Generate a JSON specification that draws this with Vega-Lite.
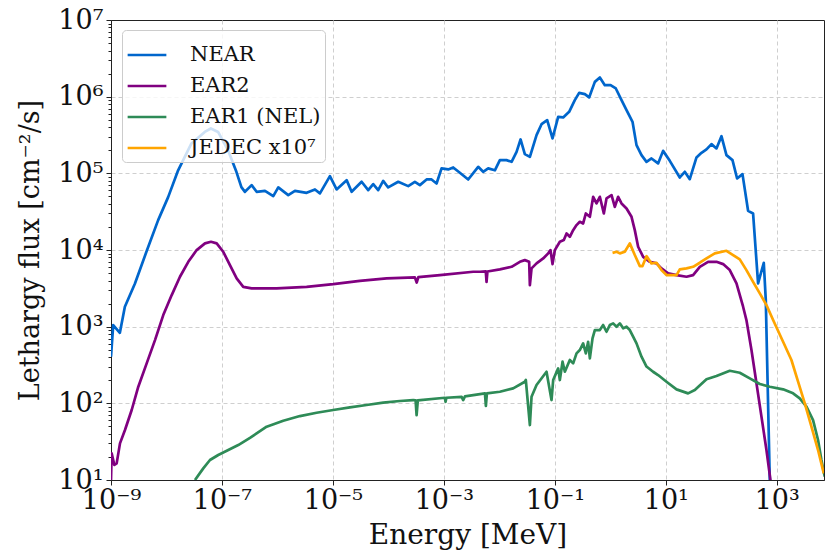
{
"$schema": "https://vega.github.io/schema/vega-lite/v6.json",
"width": 713, "height": 460,
"autosize": {"type": "none"},
"padding": {"left": 111, "top": 20, "right": 1, "bottom": 72},
"background": "white",
"config": {"view": {"stroke": "#222222", "strokeWidth": 1}, "font": "DejaVu Serif"},
"data": {"values": [
{"s":"NEAR","E":1e-9,"F":405},{"s":"NEAR","E":1.096e-9,"F":1047},{"s":"NEAR","E":1.445e-9,"F":832},{"s":"NEAR","E":1.778e-9,"F":1820},{"s":"NEAR","E":2.692e-9,"F":3631},{"s":"NEAR","E":4.365e-9,"F":9550},{"s":"NEAR","E":7.079e-9,"F":24550},{"s":"NEAR","E":1.072e-8,"F":48980},{"s":"NEAR","E":1.622e-8,"F":109600},{"s":"NEAR","E":2.818e-8,"F":245500},{"s":"NEAR","E":4.898e-8,"F":346700},{"s":"NEAR","E":6.31e-8,"F":384600},{"s":"NEAR","E":8.511e-8,"F":346700},{"s":"NEAR","E":1.288e-7,"F":199500},{"s":"NEAR","E":1.82e-7,"F":104700},{"s":"NEAR","E":2.239e-7,"F":66070},{"s":"NEAR","E":2.594e-7,"F":57410},{"s":"NEAR","E":3.428e-7,"F":70150},{"s":"NEAR","E":4.217e-7,"F":57410},{"s":"NEAR","E":5.957e-7,"F":59160},{"s":"NEAR","E":8.414e-7,"F":50470},{"s":"NEAR","E":1.035e-6,"F":65460},{"s":"NEAR","E":1.567e-6,"F":52000},{"s":"NEAR","E":2.065e-6,"F":59160},{"s":"NEAR","E":3.357e-6,"F":55720},{"s":"NEAR","E":4.742e-6,"F":61660},{"s":"NEAR","E":5.834e-6,"F":54700},{"s":"NEAR","E":8.831e-6,"F":91830},{"s":"NEAR","E":1.164e-5,"F":61660},{"s":"NEAR","E":1.766e-5,"F":81470},{"s":"NEAR","E":2.173e-5,"F":57410},{"s":"NEAR","E":3.289e-5,"F":77620},{"s":"NEAR","E":4.325e-5,"F":60390},{"s":"NEAR","E":5.321e-5,"F":72280},{"s":"NEAR","E":6.546e-5,"F":60390},{"s":"NEAR","E":8.054e-5,"F":79800},{"s":"NEAR","E":9.908e-5,"F":65460},{"s":"NEAR","E":1.503e-4,"F":77620},{"s":"NEAR","E":2.275e-4,"F":68080},{"s":"NEAR","E":2.999e-4,"F":77620},{"s":"NEAR","E":3.698e-4,"F":70150},{"s":"NEAR","E":4.875e-4,"F":83180},{"s":"NEAR","E":5.998e-4,"F":83180},{"s":"NEAR","E":7.379e-4,"F":73790},{"s":"NEAR","E":9.08e-4,"F":115900},{"s":"NEAR","E":1.197e-3,"F":112500},{"s":"NEAR","E":1.472e-3,"F":119400},{"s":"NEAR","E":1.941e-3,"F":101600},{"s":"NEAR","E":2.742e-3,"F":83180},{"s":"NEAR","E":4.15e-3,"F":121600},{"s":"NEAR","E":5.105e-3,"F":104700},{"s":"NEAR","E":6.281e-3,"F":115900},{"s":"NEAR","E":8.299e-3,"F":109600},{"s":"NEAR","E":1.021e-2,"F":148600},{"s":"NEAR","E":1.346e-2,"F":148600},{"s":"NEAR","E":1.66e-2,"F":141300},{"s":"NEAR","E":2.042e-2,"F":190500},{"s":"NEAR","E":2.41e-2,"F":276700},{"s":"NEAR","E":2.877e-2,"F":177800},{"s":"NEAR","E":3.548e-2,"F":164100},{"s":"NEAR","E":4.677e-2,"F":314800},{"s":"NEAR","E":5.754e-2,"F":437500},{"s":"NEAR","E":7.278e-2,"F":494300},{"s":"NEAR","E":9.078e-2,"F":285100},{"s":"NEAR","E":0.1148,"F":545800},{"s":"NEAR","E":0.1413,"F":535800},{"s":"NEAR","E":0.1811,"F":633900},{"s":"NEAR","E":0.2291,"F":901600},{"s":"NEAR","E":0.2742,"F":1122000},{"s":"NEAR","E":0.3475,"F":1079000},{"s":"NEAR","E":0.415,"F":977200},{"s":"NEAR","E":0.526,"F":1560000},{"s":"NEAR","E":0.6471,"F":1778000},{"s":"NEAR","E":0.7962,"F":1413000},{"s":"NEAR","E":1.009,"F":1413000},{"s":"NEAR","E":1.256,"F":1279000},{"s":"NEAR","E":1.592,"F":901600},{"s":"NEAR","E":1.959,"F":666800},{"s":"NEAR","E":2.512,"F":469900},{"s":"NEAR","E":2.965,"F":233300},{"s":"NEAR","E":3.648,"F":172600},{"s":"NEAR","E":4.487,"F":141300},{"s":"NEAR","E":5.521,"F":156300},{"s":"NEAR","E":7.261,"F":134600},{"s":"NEAR","E":8.933,"F":196300},{"s":"NEAR","E":11.8,"F":145500},{"s":"NEAR","E":17.86,"F":88310},{"s":"NEAR","E":21.98,"F":104700},{"s":"NEAR","E":27.04,"F":83950},{"s":"NEAR","E":35.73,"F":161100},{"s":"NEAR","E":43.95,"F":185400},{"s":"NEAR","E":54.08,"F":205100},{"s":"NEAR","E":66.53,"F":240400},{"s":"NEAR","E":81.85,"F":211300},{"s":"NEAR","E":100.7,"F":305500},{"s":"NEAR","E":123.9,"F":172600},{"s":"NEAR","E":159.2,"F":148600},{"s":"NEAR","E":192.8,"F":85700},{"s":"NEAR","E":241.0,"F":97720},{"s":"NEAR","E":304.1,"F":32430},{"s":"NEAR","E":374.1,"F":29990},{"s":"NEAR","E":460.3,"F":3673},{"s":"NEAR","E":583.4,"F":6808},{"s":"NEAR","E":633.9,"F":2223},{"s":"NEAR","E":748.2,"F":10},{"s":"NEAR","E":758.6,"F":6.3},
{"s":"EAR2","E":1e-9,"F":10},{"s":"EAR2","E":1.028e-9,"F":22.28},{"s":"EAR2","E":1.148e-9,"F":15.7},{"s":"EAR2","E":1.265e-9,"F":16.48},{"s":"EAR2","E":1.452e-9,"F":30.06},{"s":"EAR2","E":1.786e-9,"F":44.87},{"s":"EAR2","E":2.36e-9,"F":81.85},{"s":"EAR2","E":3.105e-9,"F":164.8},{"s":"EAR2","E":4.395e-9,"F":331.9},{"s":"EAR2","E":6.209e-9,"F":668.3},{"s":"EAR2","E":8.75e-9,"F":1416},{"s":"EAR2","E":1.242e-8,"F":2582},{"s":"EAR2","E":1.75e-8,"F":4477},{"s":"EAR2","E":2.472e-8,"F":7015},{"s":"EAR2","E":3.499e-8,"F":9977},{"s":"EAR2","E":4.943e-8,"F":12190},{"s":"EAR2","E":6.339e-8,"F":12790},{"s":"EAR2","E":8.035e-8,"F":12190},{"s":"EAR2","E":1.054e-7,"F":9484},{"s":"EAR2","E":1.393e-7,"F":6353},{"s":"EAR2","E":1.841e-7,"F":4266},{"s":"EAR2","E":2.421e-7,"F":3311},{"s":"EAR2","E":3.428e-7,"F":3155},{"s":"EAR2","E":5.957e-7,"F":3155},{"s":"EAR2","E":9.661e-7,"F":3155},{"s":"EAR2","E":3.357e-6,"F":3311},{"s":"EAR2","E":1.012e-5,"F":3589},{"s":"EAR2","E":3.062e-5,"F":3963},{"s":"EAR2","E":9.29e-5,"F":4266},{"s":"EAR2","E":2.999e-4,"F":4395},{"s":"EAR2","E":3.236e-4,"F":3758},{"s":"EAR2","E":3.467e-4,"F":4416},{"s":"EAR2","E":8.472e-4,"F":4710},{"s":"EAR2","E":3.373e-3,"F":5200},{"s":"EAR2","E":4.457e-3,"F":5200},{"s":"EAR2","E":5.689e-3,"F":5248},{"s":"EAR2","E":5.875e-3,"F":3846},{"s":"EAR2","E":6.095e-3,"F":5248},{"s":"EAR2","E":1.021e-2,"F":5585},{"s":"EAR2","E":1.66e-2,"F":6039},{"s":"EAR2","E":2.339e-2,"F":7015},{"s":"EAR2","E":2.877e-2,"F":7379},{"s":"EAR2","E":3.443e-2,"F":7015},{"s":"EAR2","E":3.548e-2,"F":3483},{"s":"EAR2","E":3.802e-2,"F":5754},{"s":"EAR2","E":4.677e-2,"F":6683},{"s":"EAR2","E":6.166e-2,"F":7762},{"s":"EAR2","E":7.586e-2,"F":9036},{"s":"EAR2","E":8.356e-2,"F":9977},{"s":"EAR2","E":9.078e-2,"F":6546},{"s":"EAR2","E":0.1,"F":9977},{"s":"EAR2","E":0.123,"F":12790},{"s":"EAR2","E":0.1452,"F":13460},{"s":"EAR2","E":0.1626,"F":16440},{"s":"EAR2","E":0.1862,"F":14860},{"s":"EAR2","E":0.2138,"F":18160},{"s":"EAR2","E":0.246,"F":21130},{"s":"EAR2","E":0.2818,"F":23330},{"s":"EAR2","E":0.3236,"F":22180},{"s":"EAR2","E":0.3622,"F":29990},{"s":"EAR2","E":0.4276,"F":27100},{"s":"EAR2","E":0.4909,"F":49430},{"s":"EAR2","E":0.5636,"F":40460},{"s":"EAR2","E":0.6471,"F":49430},{"s":"EAR2","E":0.7638,"F":29990},{"s":"EAR2","E":0.8531,"F":47100},{"s":"EAR2","E":1.052,"F":52000},{"s":"EAR2","E":1.205,"F":36560},{"s":"EAR2","E":1.384,"F":49430},{"s":"EAR2","E":1.592,"F":40460},{"s":"EAR2","E":1.959,"F":34830},{"s":"EAR2","E":2.41,"F":27100},{"s":"EAR2","E":2.761,"F":18160},{"s":"EAR2","E":3.17,"F":11020},{"s":"EAR2","E":3.908,"F":8147},{"s":"EAR2","E":5.152,"F":7015},{"s":"EAR2","E":6.792,"F":6683},{"s":"EAR2","E":8.356,"F":5754},{"s":"EAR2","E":11.02,"F":4955},{"s":"EAR2","E":15.6,"F":4710},{"s":"EAR2","E":23.61,"F":4477},{"s":"EAR2","E":31.05,"F":4710},{"s":"EAR2","E":41.02,"F":6039},{"s":"EAR2","E":57.81,"F":7015},{"s":"EAR2","E":81.85,"F":7015},{"s":"EAR2","E":107.9,"F":6546},{"s":"EAR2","E":142.2,"F":5470},{"s":"EAR2","E":187.9,"F":3673},{"s":"EAR2","E":247.2,"F":1820},{"s":"EAR2","E":283.8,"F":1219},{"s":"EAR2","E":349.9,"F":495.5},{"s":"EAR2","E":430.5,"F":182.4},{"s":"EAR2","E":529.7,"F":66.99},{"s":"EAR2","E":651.6,"F":24.6},{"s":"EAR2","E":769.1,"F":10},{"s":"EAR2","E":794.3,"F":7.08},
{"s":"EAR1 (NEL)","E":3.266e-8,"F":10},{"s":"EAR1 (NEL)","E":4.603e-8,"F":14.19},{"s":"EAR1 (NEL)","E":6.081e-8,"F":18.24},{"s":"EAR1 (NEL)","E":8.57e-8,"F":21.18},{"s":"EAR1 (NEL)","E":1.3e-7,"F":24.6},{"s":"EAR1 (NEL)","E":1.968e-7,"F":28.58},{"s":"EAR1 (NEL)","E":3.199e-7,"F":35.48},{"s":"EAR1 (NEL)","E":6.383e-7,"F":49.55},{"s":"EAR1 (NEL)","E":1.274e-6,"F":59.29},{"s":"EAR1 (NEL)","E":2.541e-6,"F":68.23},{"s":"EAR1 (NEL)","E":5.082e-6,"F":75.34},{"s":"EAR1 (NEL)","E":1.012e-5,"F":81.85},{"s":"EAR1 (NEL)","E":2.023e-5,"F":88.72},{"s":"EAR1 (NEL)","E":4.036e-5,"F":95.06},{"s":"EAR1 (NEL)","E":8.054e-5,"F":101.9},{"s":"EAR1 (NEL)","E":1.611e-4,"F":107.2},{"s":"EAR1 (NEL)","E":2.799e-4,"F":110.4},{"s":"EAR1 (NEL)","E":3.09e-4,"F":109.6},{"s":"EAR1 (NEL)","E":3.221e-4,"F":70.31},{"s":"EAR1 (NEL)","E":3.388e-4,"F":109.6},{"s":"EAR1 (NEL)","E":1.042e-3,"F":118.3},{"s":"EAR1 (NEL)","E":1.072e-3,"F":104.7},{"s":"EAR1 (NEL)","E":1.109e-3,"F":118.3},{"s":"EAR1 (NEL)","E":2.089e-3,"F":121.6},{"s":"EAR1 (NEL)","E":2.228e-3,"F":110.4},{"s":"EAR1 (NEL)","E":2.399e-3,"F":123.0},{"s":"EAR1 (NEL)","E":5.495e-3,"F":134.9},{"s":"EAR1 (NEL)","E":5.715e-3,"F":92.26},{"s":"EAR1 (NEL)","E":5.957e-3,"F":134.9},{"s":"EAR1 (NEL)","E":1.021e-2,"F":141.6},{"s":"EAR1 (NEL)","E":1.774e-2,"F":156.7},{"s":"EAR1 (NEL)","E":2.877e-2,"F":191.4},{"s":"EAR1 (NEL)","E":2.999e-2,"F":201.4},{"s":"EAR1 (NEL)","E":3.548e-2,"F":52.12},{"s":"EAR1 (NEL)","E":3.802e-2,"F":121.9},{"s":"EAR1 (NEL)","E":4.677e-2,"F":173.4},{"s":"EAR1 (NEL)","E":7.079e-2,"F":258.2},{"s":"EAR1 (NEL)","E":8.71e-2,"F":110.4},{"s":"EAR1 (NEL)","E":9.333e-2,"F":201.4},{"s":"EAR1 (NEL)","E":0.1148,"F":285.8},{"s":"EAR1 (NEL)","E":0.123,"F":201.4},{"s":"EAR1 (NEL)","E":0.1377,"F":349.1},{"s":"EAR1 (NEL)","E":0.1514,"F":258.2},{"s":"EAR1 (NEL)","E":0.1862,"F":367.3},{"s":"EAR1 (NEL)","E":0.2138,"F":331.9},{"s":"EAR1 (NEL)","E":0.246,"F":448.7},{"s":"EAR1 (NEL)","E":0.2818,"F":495.5},{"s":"EAR1 (NEL)","E":0.3236,"F":605.3},{"s":"EAR1 (NEL)","E":0.3622,"F":448.7},{"s":"EAR1 (NEL)","E":0.3981,"F":635.3},{"s":"EAR1 (NEL)","E":0.4276,"F":386.4},{"s":"EAR1 (NEL)","E":0.4775,"F":703.1},{"s":"EAR1 (NEL)","E":0.526,"F":903.6},{"s":"EAR1 (NEL)","E":0.6471,"F":903.6},{"s":"EAR1 (NEL)","E":0.743,"F":1050},{"s":"EAR1 (NEL)","E":0.8531,"F":859},{"s":"EAR1 (NEL)","E":0.9795,"F":1050},{"s":"EAR1 (NEL)","E":1.125,"F":1104},{"s":"EAR1 (NEL)","E":1.294,"F":997.7},{"s":"EAR1 (NEL)","E":1.483,"F":1104},{"s":"EAR1 (NEL)","E":1.702,"F":950.6},{"s":"EAR1 (NEL)","E":1.959,"F":997.7},{"s":"EAR1 (NEL)","E":2.244,"F":903.6},{"s":"EAR1 (NEL)","E":2.576,"F":739.6},{"s":"EAR1 (NEL)","E":2.965,"F":605.3},{"s":"EAR1 (NEL)","E":3.648,"F":405.5},{"s":"EAR1 (NEL)","E":4.487,"F":302},{"s":"EAR1 (NEL)","E":5.902,"F":258.2},{"s":"EAR1 (NEL)","E":7.261,"F":233.9},{"s":"EAR1 (NEL)","E":10.28,"F":191.4},{"s":"EAR1 (NEL)","E":15.6,"F":152.1},{"s":"EAR1 (NEL)","E":25.23,"F":134.9},{"s":"EAR1 (NEL)","E":33.34,"F":148.9},{"s":"EAR1 (NEL)","E":54.08,"F":205.6},{"s":"EAR1 (NEL)","E":81.85,"F":227.0},{"s":"EAR1 (NEL)","E":142.2,"F":266.1},{"s":"EAR1 (NEL)","E":215.3,"F":250.6},{"s":"EAR1 (NEL)","E":326.6,"F":211.8},{"s":"EAR1 (NEL)","E":494.3,"F":178.6},{"s":"EAR1 (NEL)","E":748.2,"F":164.8},{"s":"EAR1 (NEL)","E":1300,"F":152.1},{"s":"EAR1 (NEL)","E":1968,"F":134.9},{"s":"EAR1 (NEL)","E":2594,"F":116.1},{"s":"EAR1 (NEL)","E":3428,"F":90.36},{"s":"EAR1 (NEL)","E":4508,"F":60.53},{"s":"EAR1 (NEL)","E":5546,"F":33.27},{"s":"EAR1 (NEL)","E":6383,"F":18.24},{"s":"EAR1 (NEL)","E":7328,"F":11.04},
{"s":"JEDEC x10⁷","E":1.096,"F":9183},{"s":"JEDEC x10⁷","E":1.294,"F":9484},{"s":"JEDEC x10⁷","E":1.483,"F":9036},{"s":"JEDEC x10⁷","E":1.824,"F":9484},{"s":"JEDEC x10⁷","E":2.244,"F":12190},{"s":"JEDEC x10⁷","E":2.761,"F":8590},{"s":"JEDEC x10⁷","E":3.404,"F":6166},{"s":"JEDEC x10⁷","E":3.802,"F":6166},{"s":"JEDEC x10⁷","E":4.487,"F":8318},{"s":"JEDEC x10⁷","E":5.521,"F":6683},{"s":"JEDEC x10⁷","E":6.792,"F":6823},{"s":"JEDEC x10⁷","E":8.356,"F":5470},{"s":"JEDEC x10⁷","E":10.28,"F":4710},{"s":"JEDEC x10⁷","E":15.6,"F":4710},{"s":"JEDEC x10⁷","E":17.86,"F":5585},{"s":"JEDEC x10⁷","E":23.61,"F":5754},{"s":"JEDEC x10⁷","E":31.05,"F":6039},{"s":"JEDEC x10⁷","E":41.02,"F":6823},{"s":"JEDEC x10⁷","E":54.08,"F":7762},{"s":"JEDEC x10⁷","E":76.38,"F":9036},{"s":"JEDEC x10⁷","E":123.9,"F":9772},{"s":"JEDEC x10⁷","E":163.3,"F":8590},{"s":"JEDEC x10⁷","E":215.3,"F":7551},{"s":"JEDEC x10⁷","E":283.8,"F":5470},{"s":"JEDEC x10⁷","E":374.1,"F":3846},{"s":"JEDEC x10⁷","E":494.3,"F":2716},{"s":"JEDEC x10⁷","E":651.6,"F":1914},{"s":"JEDEC x10⁷","E":859,"F":1219},{"s":"JEDEC x10⁷","E":1300,"F":635.3},{"s":"JEDEC x10⁷","E":1837,"F":367.3},{"s":"JEDEC x10⁷","E":2421,"F":191.4},{"s":"JEDEC x10⁷","E":3199,"F":100},{"s":"JEDEC x10⁷","E":4217,"F":49.55},{"s":"JEDEC x10⁷","E":5546,"F":24.6},{"s":"JEDEC x10⁷","E":7031,"F":12.22}
]},
"mark": {"type": "line", "strokeWidth": 2.7, "clip": true, "strokeJoin": "round"},
"encoding": {
  "x": {"field": "E", "type": "quantitative",
    "scale": {"type": "log", "domain": [1e-9, 7100], "nice": false},
    "axis": {"title": "Energy [MeV]", "titleFont": "DejaVu Serif", "titleFontSize": 28, "titleFontWeight": "normal", "titleColor": "#111",
      "values": [1e-9, 1e-7, 1e-5, 1e-3, 1e-1, 10, 1000],
      "labelExpr": "datum.value < 2e-9 ? '10⁻⁹' : datum.value < 2e-7 ? '10⁻⁷' : datum.value < 2e-5 ? '10⁻⁵' : datum.value < 2e-3 ? '10⁻³' : datum.value < 0.2 ? '10⁻¹' : datum.value < 20 ? '10¹' : '10³'",
      "labelFont": "DejaVu Serif", "labelFontSize": 27, "labelColor": "#111", "labelPadding": 2, "labelFlush": false, "labelOverlap": false,
      "tickSize": 5, "tickColor": "#222", "domainColor": "#222",
      "grid": true, "gridDash": [4, 3], "gridColor": "#cfcfcf", "gridWidth": 1,
      "gridOpacity": {"condition": {"test": "datum.value < 2e-9", "value": 0}, "value": 1},
      "titlePadding": 8}},
  "y": {"field": "F", "type": "quantitative",
    "scale": {"type": "log", "domain": [10, 10000000], "nice": false},
    "axis": {"title": "Lethargy flux [cm⁻²/s]", "titleFont": "DejaVu Serif", "titleFontSize": 27, "titleFontWeight": "normal", "titleColor": "#111",
      "values": [10,20,30,40,50,60,70,80,90,100,200,300,400,500,600,700,800,900,1000,2000,3000,4000,5000,6000,7000,8000,9000,10000,20000,30000,40000,50000,60000,70000,80000,90000,100000,200000,300000,400000,500000,600000,700000,800000,900000,1000000,2000000,3000000,4000000,5000000,6000000,7000000,8000000,9000000,10000000],
      "labelExpr": "datum.value == 10 ? '10¹' : datum.value == 100 ? '10²' : datum.value == 1000 ? '10³' : datum.value == 10000 ? '10⁴' : datum.value == 100000 ? '10⁵' : datum.value == 1000000 ? '10⁶' : datum.value == 10000000 ? '10⁷' : ''",
      "labelFont": "DejaVu Serif", "labelFontSize": 27, "labelColor": "#111", "labelPadding": 3, "labelFlush": false, "labelOverlap": false,
      "tickSize": {"condition": {"test": "indexof([10,100,1000,10000,100000,1000000,10000000], datum.value) >= 0", "value": 5}, "value": 3},
      "tickColor": "#222", "domainColor": "#222",
      "grid": true, "gridDash": [4, 3], "gridColor": "#cfcfcf", "gridWidth": 1,
      "gridOpacity": {"condition": {"test": "indexof([100,1000,10000,100000,1000000], datum.value) >= 0", "value": 1}, "value": 0},
      "titlePadding": 13}},
  "color": {"field": "s", "type": "nominal",
    "scale": {"domain": ["NEAR", "EAR2", "EAR1 (NEL)", "JEDEC x10⁷"], "range": ["#0066CC", "#800080", "#2E8B57", "#FFA500"]},
    "legend": {"title": null, "orient": "none", "legendX": 11, "legendY": 10,
      "symbolType": "stroke", "symbolSize": 1500, "symbolStrokeWidth": 2.7,
      "labelFont": "DejaVu Serif", "labelFontSize": 21, "labelColor": "#111", "labelOffset": 22,
      "rowPadding": -2.5, "padding": 4, "fillColor": "rgba(255,255,255,0.8)", "strokeColor": "#cccccc", "cornerRadius": 4}}
}
}
